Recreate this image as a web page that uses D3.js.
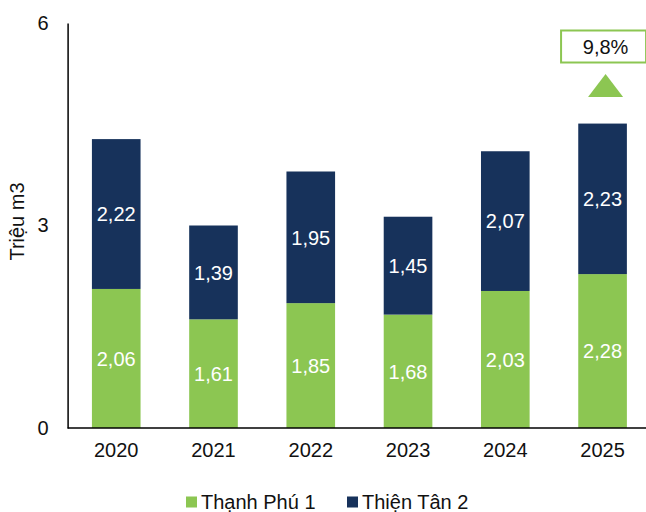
<!DOCTYPE html>
<html>
<head>
<meta charset="utf-8">
<script src="https://cdn.jsdelivr.net/npm/d3@7"></script>
<style>
  html, body { margin: 0; padding: 0; background: #fff; }
  svg { display: block; font-family: "Liberation Sans", Arial, sans-serif; }
</style>
</head>
<body>
<svg id="chart" width="646" height="512"></svg>
<script>
// Sản lượng nước theo năm (triệu m3)
const years = ["2020", "2021", "2022", "2023", "2024", "2025"];
const thanhPhu1 = [2.06, 1.61, 1.85, 1.68, 2.03, 2.28];
const thienTan2 = [2.22, 1.39, 1.95, 1.45, 2.07, 2.23];
const seriesNames = ["Thạnh Phú 1", "Thiện Tân 2"];
const yTicks = [0, 3, 6];
const growthLabel = "9,8%";

const colors = ["#8CC652", "#17325B"];

const svg = d3.select("#chart");
const plotLeft = 67.6, plotRight = 651.2, plotTop = 23, plotBottom = 428;

const x = d3.scaleBand().domain(years).range([plotLeft, plotRight])
  .paddingInner(0.5).paddingOuter(0.25);
const y = d3.scaleLinear().domain([0, 6]).range([plotBottom, plotTop]);

const rows = years.map((yr, i) => ({ year: yr, a: thanhPhu1[i], b: thienTan2[i] }));
const stacked = d3.stack().keys(["a", "b"])(rows);

const fmt = v => d3.format(".2f")(v).replace(".", ",");

// bars
const g = svg.append("g");
stacked.forEach((layer, li) => {
  g.selectAll(null).data(layer).enter().append("rect")
    .attr("x", d => x(d.data.year))
    .attr("width", x.bandwidth())
    .attr("y", d => y(d[1]))
    .attr("height", d => y(d[0]) - y(d[1]))
    .attr("fill", colors[li]);
  g.selectAll(null).data(layer).enter().append("text")
    .attr("x", d => x(d.data.year) + x.bandwidth() / 2)
    .attr("y", d => (y(d[0]) + y(d[1])) / 2)
    .attr("dy", "0.36em")
    .attr("text-anchor", "middle")
    .attr("fill", "#fff")
    .attr("font-size", 20)
    .text(d => fmt(d[1] - d[0]));
});

// y axis
const yAxis = d3.axisLeft(y).tickValues(yTicks).tickSize(0).tickPadding(19)
  .tickFormat(d3.format("d"));
const ya = svg.append("g").attr("transform", `translate(${plotLeft},0)`).call(yAxis);
ya.select(".domain").attr("stroke", "#000").attr("stroke-width", 1.5);
ya.selectAll("text").attr("font-size", 20).attr("fill", "#111")
  .attr("font-family", "Liberation Sans, Arial, sans-serif");

// x axis
const xAxis = d3.axisBottom(x).tickSize(0).tickPadding(15);
const xa = svg.append("g").attr("transform", `translate(0,${plotBottom})`).call(xAxis);
xa.select(".domain").attr("stroke", "#000").attr("stroke-width", 1.5)
  .attr("d", `M${plotLeft},0H646`);
xa.selectAll("text").attr("font-size", 20).attr("fill", "#111")
  .attr("font-family", "Liberation Sans, Arial, sans-serif");

// y axis title
svg.append("text")
  .attr("transform", `translate(24,${(plotTop + plotBottom) / 2 - 4}) rotate(-90)`)
  .attr("text-anchor", "middle")
  .attr("font-size", 20)
  .attr("fill", "#111")
  .text("Triệu m3");

// growth marker above the last bar
const lastX = x(years[years.length - 1]) + x.bandwidth() / 2;
svg.append("rect")
  .attr("x", lastX - 41.5).attr("y", 30.5)
  .attr("width", 85).attr("height", 32)
  .attr("fill", "#fff").attr("stroke", "#8CC652").attr("stroke-width", 2);
svg.append("text")
  .attr("x", lastX + 3).attr("y", 47)
  .attr("dy", "0.36em")
  .attr("text-anchor", "middle")
  .attr("font-size", 20).attr("fill", "#111")
  .text(growthLabel);
svg.append("path")
  .attr("d", `M${lastX + 3},74 L${lastX + 20.5},97 L${lastX - 14.5},97 Z`)
  .attr("fill", "#8CC652");

// legend
const legend = svg.append("g");
const legendX = [186, 347];
seriesNames.forEach((name, i) => {
  legend.append("rect")
    .attr("x", legendX[i]).attr("y", 496.5)
    .attr("width", 11).attr("height", 11)
    .attr("fill", colors[i]);
  legend.append("text")
    .attr("x", legendX[i] + 15).attr("y", 502)
    .attr("dy", "0.36em")
    .attr("font-size", 20).attr("fill", "#111")
    .text(name);
});
</script>
</body>
</html>
